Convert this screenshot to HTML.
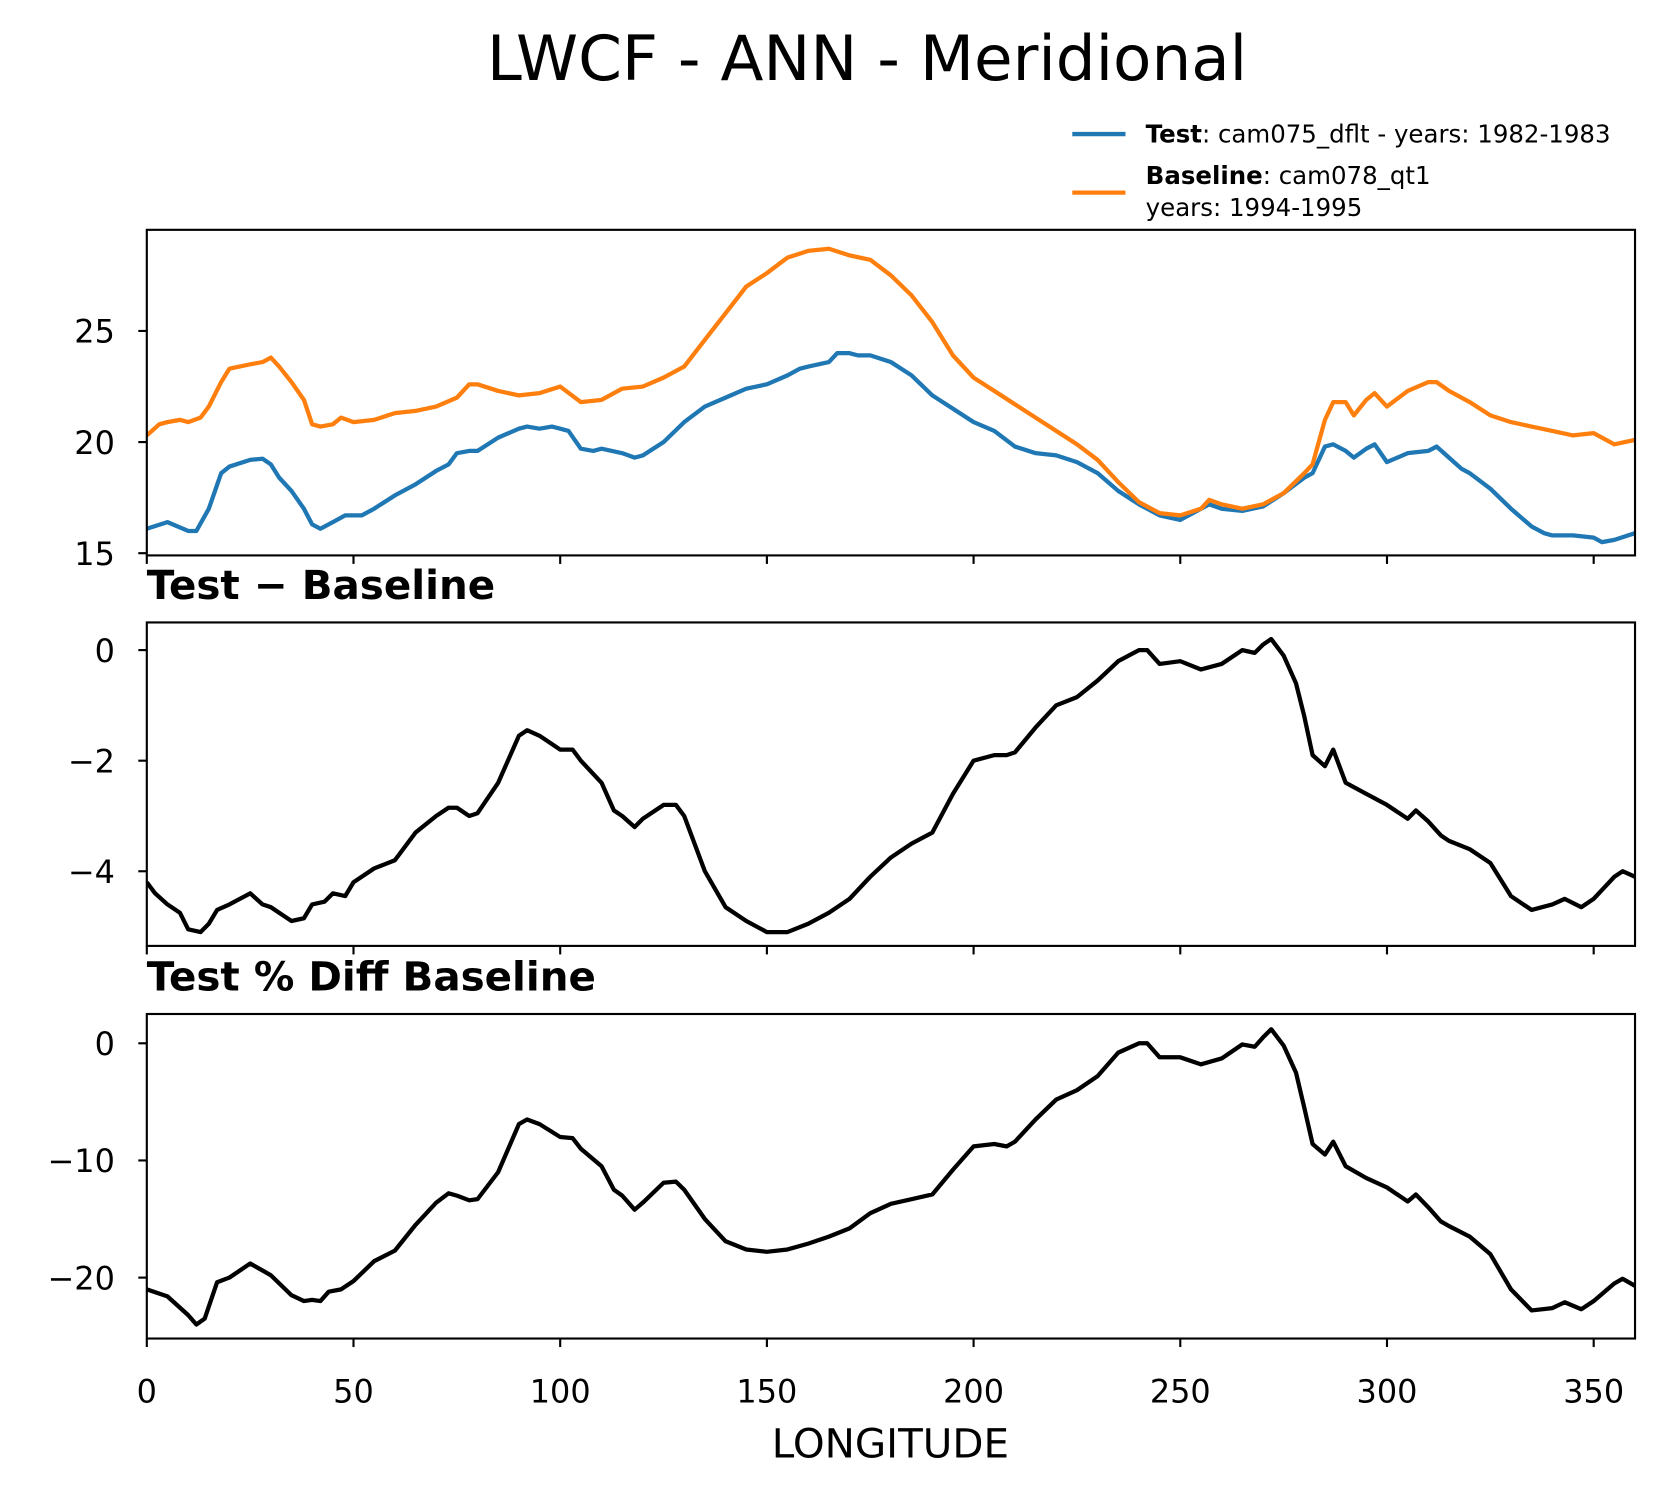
<!DOCTYPE html>
<html><head><meta charset="utf-8"><style>
html,body{margin:0;padding:0;background:#fff;}
svg{display:block;font-family:"DejaVu Sans","Liberation Sans",sans-serif;}
</style></head><body>
<svg id="chart" width="1668" height="1496" viewBox="0 0 1568 1406" preserveAspectRatio="none" xmlns="http://www.w3.org/2000/svg">
<rect width="1568" height="1406" fill="#fff"/>
<text x="815" y="75" font-size="59" text-anchor="middle">LWCF - ANN - Meridional</text>
<g>
<line x1="1008" y1="126" x2="1058" y2="126" stroke="#1f77b4" stroke-width="4"/>
<text x="1077" y="134" font-size="23"><tspan font-weight="bold">Test</tspan>: cam075_dflt - years: 1982-1983</text>
<line x1="1008" y1="181" x2="1058" y2="181" stroke="#ff7f0e" stroke-width="4"/>
<text x="1077" y="173" font-size="23"><tspan font-weight="bold">Baseline</tspan>: cam078_qt1</text>
<text x="1077" y="203" font-size="23">years: 1994-1995</text>
</g>
<text x="138" y="563" font-size="38" font-weight="bold">Test − Baseline</text>
<text x="138" y="931" font-size="38" font-weight="bold">Test % Diff Baseline</text>
<text x="837" y="1370" font-size="38" text-anchor="middle">LONGITUDE</text>
</svg>
<script>
const testLon=[0,5,10,12,15,18,20,25,28,30,32,35,38,40,42,45,48,50,52,55,60,65,70,73,75,78,80,85,90,92,95,98,100,102,105,108,110,115,118,120,125,130,135,140,145,150,155,158,160,165,167,170,172,175,180,185,190,195,200,205,210,215,220,225,230,235,240,245,250,255,257,260,265,270,275,280,282,285,287,290,292,295,297,300,305,310,312,315,318,320,325,330,335,338,340,345,350,352,355,360];
const testVal=[16.1,16.4,16.0,16.0,17.0,18.6,18.9,19.2,19.25,19.0,18.4,17.8,17.0,16.3,16.1,16.4,16.7,16.7,16.7,17.0,17.6,18.1,18.7,19.0,19.5,19.6,19.6,20.2,20.6,20.7,20.6,20.7,20.6,20.5,19.7,19.6,19.7,19.5,19.3,19.4,20.0,20.9,21.6,22.0,22.4,22.6,23.0,23.3,23.4,23.6,24.0,24.0,23.9,23.9,23.6,23.0,22.1,21.5,20.9,20.5,19.8,19.5,19.4,19.1,18.6,17.8,17.2,16.7,16.5,17.0,17.2,17.0,16.9,17.1,17.7,18.4,18.6,19.8,19.9,19.6,19.3,19.7,19.9,19.1,19.5,19.6,19.8,19.3,18.8,18.6,17.9,17.0,16.2,15.9,15.8,15.8,15.7,15.5,15.6,15.9];
const baseLon=[0,3,5,8,10,13,15,18,20,25,28,30,32,35,38,40,42,45,47,50,55,60,65,70,75,78,80,85,90,95,100,105,110,115,120,125,130,135,140,145,150,155,160,165,170,175,180,185,190,195,200,205,210,215,220,225,230,235,240,245,250,255,257,260,265,270,275,280,282,285,287,290,292,295,297,300,305,310,312,315,320,325,330,335,340,345,350,355,360];
const baseVal=[20.3,20.8,20.9,21.0,20.9,21.1,21.6,22.7,23.3,23.5,23.6,23.8,23.4,22.7,21.9,20.8,20.7,20.8,21.1,20.9,21.0,21.3,21.4,21.6,22.0,22.6,22.6,22.3,22.1,22.2,22.5,21.8,21.9,22.4,22.5,22.9,23.4,24.6,25.8,27.0,27.6,28.3,28.6,28.7,28.4,28.2,27.5,26.6,25.4,23.9,22.9,22.3,21.7,21.1,20.5,19.9,19.2,18.2,17.3,16.8,16.7,17.0,17.4,17.2,17.0,17.2,17.7,18.6,19.0,21.0,21.8,21.8,21.2,21.9,22.2,21.6,22.3,22.7,22.7,22.3,21.8,21.2,20.9,20.7,20.5,20.3,20.4,19.9,20.1];
const diffLon=[0,2,5,8,10,13,15,17,20,25,28,30,35,38,40,43,45,48,50,55,60,65,70,73,75,78,80,85,90,92,95,100,103,105,110,113,115,118,120,125,128,130,135,140,145,150,155,160,165,170,175,180,185,190,195,200,205,208,210,215,220,225,230,235,240,242,245,250,255,260,265,268,270,272,275,278,280,282,285,287,290,295,300,305,307,310,313,315,320,325,330,335,340,343,347,350,355,357,360];
const diffVal=[-4.2,-4.4,-4.6,-4.75,-5.05,-5.1,-4.95,-4.7,-4.6,-4.4,-4.6,-4.65,-4.9,-4.85,-4.6,-4.55,-4.4,-4.45,-4.2,-3.95,-3.8,-3.3,-3.0,-2.85,-2.85,-3.0,-2.95,-2.4,-1.55,-1.45,-1.55,-1.8,-1.8,-2.0,-2.4,-2.9,-3.0,-3.2,-3.05,-2.8,-2.8,-3.0,-4.0,-4.65,-4.9,-5.1,-5.1,-4.95,-4.75,-4.5,-4.1,-3.75,-3.5,-3.3,-2.6,-2.0,-1.9,-1.9,-1.85,-1.4,-1.0,-0.85,-0.55,-0.2,0.0,0.0,-0.25,-0.2,-0.35,-0.25,0.0,-0.05,0.1,0.2,-0.1,-0.6,-1.2,-1.9,-2.1,-1.8,-2.4,-2.6,-2.8,-3.05,-2.9,-3.1,-3.35,-3.45,-3.6,-3.85,-4.45,-4.7,-4.6,-4.5,-4.65,-4.5,-4.1,-4.0,-4.1];
const pctLon=[0,5,10,12,14,17,20,25,28,30,35,38,40,42,44,47,50,55,60,65,70,73,75,78,80,85,90,92,95,100,103,105,110,113,115,118,120,125,128,130,135,140,145,150,155,160,165,170,175,180,185,190,195,200,205,208,210,215,220,225,230,235,240,242,245,250,255,260,265,268,270,272,275,278,280,282,285,287,290,295,300,305,307,310,313,315,320,325,330,335,340,343,347,350,355,357,360];
const pctVal=[-21.0,-21.6,-23.2,-24.0,-23.5,-20.4,-20.0,-18.8,-19.4,-19.8,-21.5,-22.0,-21.9,-22.0,-21.2,-21.0,-20.3,-18.6,-17.7,-15.5,-13.6,-12.8,-13.0,-13.4,-13.3,-11.0,-6.9,-6.5,-6.9,-8.0,-8.1,-9.0,-10.5,-12.5,-13.0,-14.2,-13.6,-11.9,-11.8,-12.5,-15.0,-16.9,-17.6,-17.8,-17.6,-17.1,-16.5,-15.8,-14.5,-13.7,-13.3,-12.9,-10.8,-8.8,-8.6,-8.8,-8.4,-6.5,-4.8,-4.0,-2.8,-0.8,0.0,0.0,-1.2,-1.2,-1.8,-1.3,-0.1,-0.3,0.5,1.2,-0.2,-2.5,-5.5,-8.6,-9.5,-8.4,-10.5,-11.5,-12.3,-13.5,-12.9,-14.0,-15.2,-15.6,-16.5,-18.0,-21.0,-22.8,-22.6,-22.1,-22.7,-22.0,-20.5,-20.1,-20.7];
const xTicks=[0,50,100,150,200,250,300,350];
const topYTicks=[15,20,25];
const diffYTicks=[0,-2,-4];
const pctYTicks=[0,-10,-20];

const NS='http://www.w3.org/2000/svg';
const svg=document.getElementById('chart');
const X0=138,X1=1537;
const xs=v=>X0+(v-0)/(360-0)*(X1-X0);
function mk(tag,attrs,parent){const e=document.createElementNS(NS,tag);for(const k in attrs)e.setAttribute(k,attrs[k]);(parent||svg).appendChild(e);return e;}
function panel(name,top,bot,ymin,ymax,yTicks,series,showX){
  const ys=v=>bot-(v-ymin)/(ymax-ymin)*(bot-top);
  const g=mk('g',{});
  
  
  const cid='clip-'+name;
  const cp=mk('clipPath',{id:cid},g);mk('rect',{x:X0,y:top,width:X1-X0,height:bot-top},cp);
  series.forEach(s=>{
    const d=s.lon.map((l,i)=>(i?'L':'M')+xs(l).toFixed(1)+','+ys(s.val[i]).toFixed(1)).join('');
    const p=mk('path',{d:d,fill:'none',stroke:s.color,'stroke-width':4,'stroke-linejoin':'round','clip-path':'url(#'+cid+')'},g);
    
    
  });
  const fr=mk('rect',{x:X0,y:top,width:X1-X0,height:bot-top,fill:'none',stroke:'#000','stroke-width':2},g);
  
  
  yTicks.forEach(t=>{
    const y=ys(t);
    mk('line',{x1:X0-8,x2:X0,y1:y,y2:y,stroke:'#000','stroke-width':2},g);
    const tx=mk('text',{x:X0-30,y:y+11,'font-size':30,'text-anchor':'end'},g);
    tx.textContent=t<0?'−'+Math.abs(t):String(t);
    
    
  });
  xTicks.forEach(t=>{
    const x=xs(t);
    mk('line',{x1:x,x2:x,y1:bot,y2:bot+8,stroke:'#000','stroke-width':2},g);
    if(showX){
      const tx=mk('text',{x:x,y:bot+60,'font-size':30,'text-anchor':'middle'},g);
      tx.textContent=String(t);
      
      
    }
  });
}
panel('top',216,522,14.9,29.55,topYTicks,[
  {lon:testLon,val:testVal,color:'#1f77b4',name:'test-line'},
  {lon:baseLon,val:baseVal,color:'#ff7f0e',name:'baseline-line'}],false);
panel('diff',585,889,-5.35,0.5,diffYTicks,[{lon:diffLon,val:diffVal,color:'#000',name:'diff-line'}],false);
panel('pct',953,1258,-25.2,2.5,pctYTicks,[{lon:pctLon,val:pctVal,color:'#000',name:'pct-diff-line'}],true);
</script>
</body></html>
